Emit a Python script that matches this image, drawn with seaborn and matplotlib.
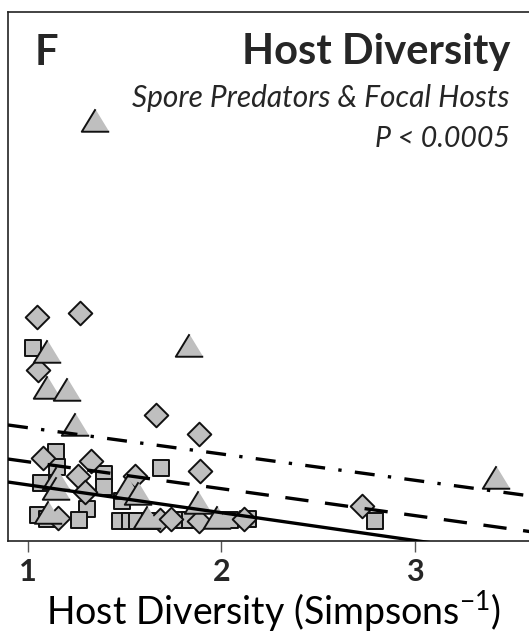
import numpy as np
import pandas as pd
import matplotlib
matplotlib.use("Agg")
import matplotlib.pyplot as plt
import seaborn as sns

# ---- data (host diversity vs. response, arbitrary y units) ----
diamond_x = [1.045, 1.270, 1.053, 1.660, 1.885, 1.079, 1.324, 1.257, 1.553, 1.889,
             1.295, 1.157, 1.682, 1.737, 1.885, 2.118, 2.728]
diamond_y = [2.24, 2.28, 1.71, 1.26, 1.07, 0.83, 0.80, 0.65, 0.65, 0.70,
             0.49, 0.23, 0.21, 0.22, 0.20, 0.22, 0.35]

square_x = [1.027, 1.145, 1.150, 1.067, 1.393, 1.393, 1.486, 1.687, 1.052, 1.098,
            1.305, 1.264, 1.475, 1.527, 1.563, 1.630, 1.801, 1.837, 2.044, 2.137, 2.793]
square_y = [1.93, 0.89, 0.74, 0.58, 0.67, 0.54, 0.40, 0.73, 0.26, 0.22,
            0.32, 0.21, 0.20, 0.20, 0.20, 0.20, 0.21, 0.21, 0.21, 0.22, 0.20]

triangle_x = [1.346, 1.097, 1.832, 1.097, 1.200, 1.243, 1.145, 1.145, 1.102, 1.510,
              1.568, 1.613, 1.877, 1.975, 3.419]
triangle_y = [4.21, 1.90, 1.96, 1.54, 1.52, 1.17, 0.63, 0.53, 0.29, 0.54,
              0.48, 0.24, 0.39, 0.24, 0.64]

# fitted lines: intercept at x=1 and slope
line_names = ["solid", "dashed", "dashdot"]
line_y_at_1 = [0.561, 0.792, 1.133]
line_slope = [-0.278, -0.269, -0.263]

tick_values = [1, 2, 3]
tick_labels = ["1", "2", "3"]

# ---- figure ----
W, H = 529, 635
fig = plt.figure(figsize=(W / 100, H / 100), dpi=100)
sns.set_style("white")
plt.rcParams["font.family"] = ["Lato", "DejaVu Sans"]
plt.rcParams["mathtext.fontset"] = "custom"
plt.rcParams["mathtext.rm"] = "Lato"
plt.rcParams["mathtext.it"] = "Lato:italic"

def px_x(p):
    return p / W

def px_y(p):
    return 1 - p / H

ax_left, ax_right, ax_top, ax_bot = 8, 540, 12, 541
ax = fig.add_axes([px_x(ax_left), px_y(ax_bot), (ax_right - ax_left) / W, (ax_bot - ax_top) / H])
ppu = 193.5
x0 = 1 + (ax_left - 28) / ppu
x1 = 1 + (ax_right - 28) / ppu
ax.set_xlim(x0, x1)
ax.set_ylim(0, (ax_bot - ax_top) / 100)

fill = "#bfbfbf"
edge = "#111111"
tri_marker = [(0, 0.82), (-1, -0.82), (1, -0.82)]

sns.scatterplot(x=square_x, y=square_y, marker="s", s=145, color=fill,
                edgecolor=edge, linewidth=1.4, ax=ax, zorder=3)
sns.scatterplot(x=diamond_x, y=diamond_y, marker="D", s=145, color=fill,
                edgecolor=edge, linewidth=1.4, ax=ax, zorder=3)
sns.scatterplot(x=triangle_x, y=triangle_y, marker=tri_marker, s=390, color=fill,
                edgecolor=edge, linewidth=1.4, ax=ax, zorder=3)

xs = np.linspace(x0, x1, 200)
dash_styles = {"solid": None, "dashed": (7.0, 5.0), "dashdot": (6, 4, 1, 4)}
for name, b0, b1 in zip(line_names, line_y_at_1, line_slope):
    ys = b0 + b1 * (xs - 1)
    ln, = ax.plot(xs, ys, color="black", lw=2.4, zorder=4, solid_capstyle="butt",
                  dash_capstyle="butt")
    if dash_styles[name] is not None:
        ln.set_dashes(dash_styles[name])

ax.set_yticks([])
ax.set_xticks(tick_values)
ax.set_xticklabels(tick_labels, fontweight="bold", fontsize=22)
ax.tick_params(axis="x", direction="out", length=8, width=1, color="#555555",
               pad=4, bottom=True)
for side in ["left", "top", "bottom"]:
    ax.spines[side].set_color("#222222")
    ax.spines[side].set_linewidth(1.2)
ax.spines["right"].set_visible(False)

ax.set_xlabel("Host Diversity (Simpsons$^{-1}$)", fontsize=27, labelpad=2, color="black")

fig.text(px_x(35), px_y(65), "F", fontsize=30, fontweight="bold", ha="left", va="baseline")
fig.text(px_x(510), px_y(64), "Host Diversity", fontsize=30, fontweight="bold",
         ha="right", va="baseline")
fig.text(px_x(510), px_y(107), "Spore Predators & Focal Hosts", fontsize=21.5,
         fontstyle="italic", ha="right", va="baseline")
fig.text(px_x(510), px_y(147), "P < 0.0005", fontsize=20.5, fontstyle="italic",
         ha="right", va="baseline")

fig.savefig("out.png", dpi=100)
